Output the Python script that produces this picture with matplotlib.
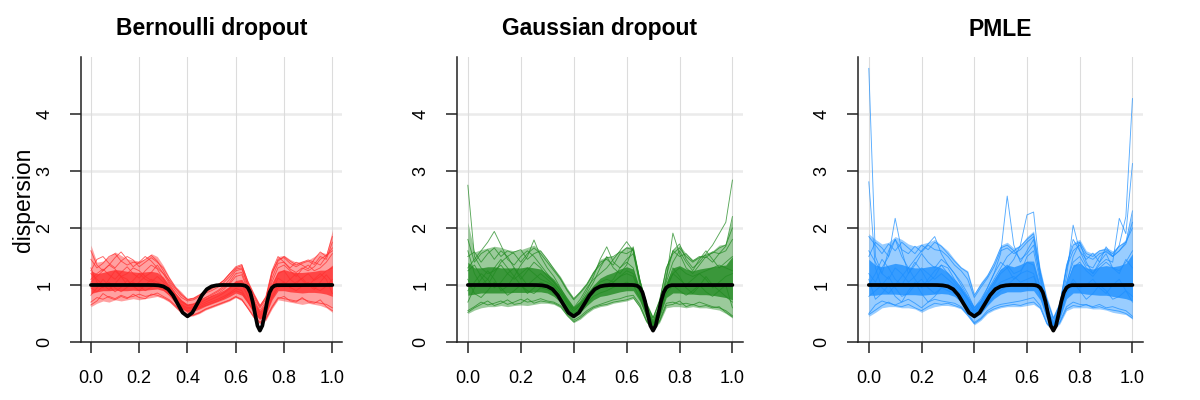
import matplotlib
matplotlib.use("Agg")
import matplotlib.pyplot as plt
import numpy as np

plt.rcParams['font.family'] = ['Liberation Sans', 'DejaVu Sans']

# shared x grid for the coloured curves (step 0.025)
x_grid = np.round(np.arange(41) * 0.025, 3)

# true dispersion (black curve)
true_x = [0.0, 0.24, 0.26, 0.28, 0.30, 0.32, 0.34, 0.36, 0.38, 0.40, 0.42, 0.44, 0.46, 0.48, 0.50, 0.52, 0.54,
          0.62, 0.63, 0.64, 0.65, 0.66, 0.67, 0.68, 0.69, 0.70, 0.71, 0.72, 0.73, 0.74, 0.75, 0.76, 0.77, 1.0]
true_y = [1.0, 1.0, 0.999, 0.994, 0.976, 0.926, 0.82, 0.666, 0.515, 0.45, 0.515, 0.666, 0.82, 0.926, 0.976, 0.994, 1.0,
          1.0, 0.997, 0.986, 0.953, 0.87, 0.71, 0.49, 0.286, 0.20, 0.286, 0.49, 0.71, 0.87, 0.953, 0.986, 0.997, 1.0]

titles = ["Bernoulli dropout", "Gaussian dropout", "PMLE"]
colors = ["#FF3030", "#228B22", "#1E90FF"]

# ---------- Bernoulli dropout ----------
bern_hi = [1.70, 1.40, 1.42, 1.50, 1.58, 1.52, 1.46, 1.44, 1.42, 1.46, 1.55, 1.50, 1.34, 1.14, 0.98, 0.88, 0.76, 0.78, 0.84, 0.90, 0.95,
           1.02, 1.10, 1.22, 1.32, 1.36, 1.08, 0.86, 0.66, 0.82, 1.28, 1.50, 1.52, 1.45, 1.40, 1.42, 1.44, 1.50, 1.58, 1.55, 1.96]
bern_lo = [0.62, 0.68, 0.72, 0.70, 0.74, 0.72, 0.74, 0.76, 0.74, 0.76, 0.78, 0.80, 0.76, 0.70, 0.60, 0.50, 0.44, 0.46, 0.50, 0.56, 0.60,
           0.64, 0.68, 0.72, 0.78, 0.72, 0.58, 0.42, 0.32, 0.38, 0.58, 0.74, 0.72, 0.70, 0.68, 0.66, 0.68, 0.66, 0.64, 0.60, 0.52]
bern_core_hi = [1.25, 1.20, 1.22, 1.25, 1.27, 1.26, 1.24, 1.23, 1.22, 1.23, 1.24, 1.22, 1.14, 1.00, 0.86, 0.74, 0.66, 0.68, 0.73, 0.78, 0.82,
                0.86, 0.91, 0.98, 1.08, 1.10, 0.92, 0.72, 0.54, 0.68, 1.04, 1.24, 1.27, 1.24, 1.22, 1.22, 1.23, 1.24, 1.26, 1.26, 1.35]
bern_core_lo = [0.85, 0.88, 0.90, 0.90, 0.91, 0.90, 0.90, 0.91, 0.90, 0.91, 0.92, 0.93, 0.90, 0.82, 0.70, 0.59, 0.52, 0.54, 0.58, 0.63, 0.67,
                0.71, 0.75, 0.80, 0.86, 0.82, 0.68, 0.52, 0.40, 0.48, 0.74, 0.90, 0.90, 0.88, 0.87, 0.86, 0.87, 0.87, 0.86, 0.84, 0.80]
bern_curves = [
    [1.45, 1.30, 1.38, 1.50, 1.55, 1.42, 1.35, 1.40, 1.38, 1.45, 1.52, 1.42, 1.25, 1.05, 0.90, 0.78, 0.72, 0.74, 0.80, 0.86, 0.90,
     0.96, 1.04, 1.15, 1.28, 1.30, 1.00, 0.78, 0.60, 0.75, 1.20, 1.45, 1.48, 1.38, 1.32, 1.38, 1.42, 1.36, 1.50, 1.45, 1.75],
    [0.70, 0.78, 0.75, 0.80, 0.76, 0.82, 0.78, 0.80, 0.84, 0.80, 0.82, 0.86, 0.80, 0.74, 0.64, 0.54, 0.46, 0.48, 0.52, 0.58, 0.62,
     0.66, 0.70, 0.74, 0.80, 0.75, 0.60, 0.45, 0.35, 0.42, 0.62, 0.78, 0.76, 0.74, 0.72, 0.76, 0.72, 0.70, 0.68, 0.66, 0.60],
    [1.10, 1.20, 1.28, 1.18, 1.10, 1.22, 1.32, 1.20, 1.12, 1.25, 1.35, 1.28, 1.10, 0.95, 0.80, 0.70, 0.64, 0.66, 0.72, 0.78, 0.82,
     0.88, 0.95, 1.05, 1.20, 1.22, 0.95, 0.70, 0.52, 0.66, 1.05, 1.30, 1.35, 1.25, 1.15, 1.28, 1.35, 1.25, 1.30, 1.40, 1.55],
    [0.95, 0.88, 0.98, 1.05, 0.95, 0.88, 0.96, 1.05, 0.98, 0.90, 0.96, 1.02, 0.95, 0.86, 0.74, 0.62, 0.55, 0.57, 0.62, 0.67, 0.71,
     0.75, 0.80, 0.86, 0.94, 0.90, 0.72, 0.54, 0.42, 0.52, 0.80, 1.00, 1.05, 0.96, 0.90, 0.98, 1.05, 0.95, 0.90, 0.98, 1.10],
    [1.30, 1.05, 0.95, 1.10, 1.25, 1.15, 1.00, 1.08, 1.20, 1.10, 1.05, 1.15, 1.05, 0.92, 0.78, 0.66, 0.60, 0.62, 0.68, 0.74, 0.80,
     0.85, 0.92, 1.02, 1.15, 1.18, 0.90, 0.66, 0.48, 0.60, 0.95, 1.20, 1.25, 1.10, 1.02, 1.12, 1.20, 1.08, 1.15, 1.25, 1.30],
    [0.82, 0.95, 1.10, 0.98, 0.88, 0.96, 1.08, 0.98, 0.90, 1.00, 1.10, 1.05, 1.00, 0.90, 0.76, 0.64, 0.58, 0.60, 0.65, 0.70, 0.75,
     0.80, 0.86, 0.94, 1.05, 1.02, 0.80, 0.60, 0.45, 0.56, 0.88, 1.12, 1.05, 0.95, 1.05, 1.12, 1.00, 0.92, 1.05, 1.18, 1.05],
    [1.20, 1.10, 1.00, 0.92, 1.02, 1.15, 1.10, 0.98, 1.05, 1.15, 1.08, 1.00, 0.92, 0.82, 0.70, 0.60, 0.54, 0.56, 0.60, 0.64, 0.68,
     0.72, 0.77, 0.84, 0.90, 0.86, 0.70, 0.52, 0.40, 0.50, 0.76, 0.95, 1.00, 1.10, 1.20, 1.08, 0.98, 1.10, 1.20, 1.10, 0.85],
    [1.05, 1.15, 1.25, 1.35, 1.28, 1.15, 1.20, 1.30, 1.25, 1.15, 1.22, 1.35, 1.20, 1.02, 0.85, 0.72, 0.65, 0.67, 0.72, 0.78, 0.84,
     0.90, 0.98, 1.10, 1.25, 1.28, 1.00, 0.74, 0.55, 0.70, 1.12, 1.38, 1.40, 1.28, 1.22, 1.30, 1.25, 1.32, 1.45, 1.52, 1.60],
    [1.60, 1.35, 1.25, 1.35, 1.48, 1.58, 1.45, 1.32, 1.40, 1.50, 1.42, 1.30, 1.20, 1.08, 0.94, 0.82, 0.74, 0.76, 0.82, 0.88, 0.93,
     1.00, 1.08, 1.20, 1.32, 1.36, 1.05, 0.82, 0.62, 0.80, 1.25, 1.50, 1.40, 1.30, 1.40, 1.35, 1.28, 1.45, 1.58, 1.50, 1.85],
    [0.65, 0.72, 0.85, 0.78, 0.74, 0.80, 0.76, 0.84, 0.78, 0.76, 0.84, 0.82, 0.78, 0.72, 0.62, 0.52, 0.45, 0.47, 0.51, 0.57, 0.61,
     0.65, 0.69, 0.73, 0.79, 0.74, 0.59, 0.43, 0.33, 0.40, 0.60, 0.76, 0.80, 0.72, 0.70, 0.78, 0.70, 0.68, 0.74, 0.62, 0.55],
    [1.25, 1.45, 1.50, 1.38, 1.30, 1.42, 1.50, 1.44, 1.32, 1.40, 1.48, 1.40, 1.30, 1.12, 0.96, 0.84, 0.75, 0.77, 0.83, 0.89, 0.94,
     1.00, 1.08, 1.20, 1.30, 1.34, 1.06, 0.84, 0.64, 0.78, 1.22, 1.42, 1.50, 1.42, 1.35, 1.40, 1.44, 1.40, 1.35, 1.50, 1.65],
]

# ---------- Gaussian dropout ----------
gaus_hi = [2.10, 1.58, 1.62, 1.65, 1.68, 1.66, 1.62, 1.60, 1.62, 1.66, 1.70, 1.60, 1.45, 1.30, 1.15, 0.95, 0.78, 0.90, 1.04, 1.25, 1.45,
           1.50, 1.50, 1.60, 1.68, 1.66, 1.10, 0.70, 0.45, 0.76, 1.32, 1.62, 1.70, 1.55, 1.45, 1.50, 1.56, 1.60, 1.70, 1.72, 2.20]
gaus_lo = [0.50, 0.56, 0.60, 0.62, 0.62, 0.64, 0.62, 0.64, 0.65, 0.64, 0.66, 0.68, 0.68, 0.66, 0.60, 0.45, 0.34, 0.40, 0.50, 0.58, 0.62,
           0.64, 0.68, 0.70, 0.72, 0.76, 0.60, 0.34, 0.20, 0.34, 0.60, 0.62, 0.62, 0.60, 0.62, 0.60, 0.60, 0.58, 0.56, 0.50, 0.42]
gaus_core_hi = [1.40, 1.30, 1.30, 1.32, 1.32, 1.30, 1.30, 1.30, 1.30, 1.32, 1.30, 1.28, 1.20, 1.10, 0.95, 0.78, 0.62, 0.72, 0.86, 1.00, 1.12,
                1.18, 1.22, 1.28, 1.32, 1.28, 0.95, 0.58, 0.36, 0.60, 1.05, 1.30, 1.34, 1.28, 1.25, 1.28, 1.30, 1.32, 1.34, 1.35, 1.50]
gaus_core_lo = [0.82, 0.84, 0.86, 0.86, 0.86, 0.86, 0.86, 0.87, 0.87, 0.87, 0.88, 0.88, 0.86, 0.80, 0.70, 0.56, 0.44, 0.52, 0.64, 0.74, 0.80,
                0.82, 0.85, 0.88, 0.90, 0.90, 0.72, 0.44, 0.26, 0.44, 0.78, 0.86, 0.86, 0.84, 0.84, 0.83, 0.83, 0.82, 0.80, 0.78, 0.74]
gaus_curves = [
    [2.75, 1.50, 1.30, 1.20, 1.25, 1.35, 1.20, 1.10, 1.20, 1.30, 1.20, 1.10, 1.05, 0.98, 0.85, 0.70, 0.55, 0.65, 0.80, 0.95, 1.05,
     1.10, 1.05, 1.15, 1.25, 1.20, 0.90, 0.55, 0.32, 0.55, 0.95, 1.20, 1.30, 1.20, 1.15, 1.20, 1.25, 1.30, 1.35, 1.30, 1.25],
    [1.30, 1.45, 1.60, 1.75, 1.94, 1.70, 1.45, 1.35, 1.50, 1.60, 1.50, 1.35, 1.20, 1.05, 0.90, 0.72, 0.58, 0.70, 0.90, 1.15, 1.45,
     1.67, 1.40, 1.30, 1.45, 1.55, 1.05, 0.62, 0.38, 0.62, 1.15, 1.60, 1.72, 1.45, 1.30, 1.40, 1.55, 1.70, 1.90, 2.10, 2.84],
    [0.55, 0.62, 0.70, 0.65, 0.68, 0.72, 0.66, 0.70, 0.75, 0.70, 0.72, 0.76, 0.72, 0.70, 0.64, 0.50, 0.38, 0.45, 0.55, 0.62, 0.66,
     0.70, 0.74, 0.76, 0.80, 0.82, 0.66, 0.38, 0.22, 0.38, 0.68, 0.70, 0.66, 0.68, 0.65, 0.70, 0.66, 0.62, 0.60, 0.55, 0.46],
    [1.60, 1.20, 1.00, 1.10, 1.30, 1.45, 1.30, 1.15, 1.35, 1.50, 1.79, 1.50, 1.30, 1.15, 0.95, 0.75, 0.60, 0.75, 0.95, 1.10, 1.20,
     1.30, 1.45, 1.60, 1.76, 1.60, 1.00, 0.58, 0.34, 0.58, 1.10, 1.91, 1.55, 1.30, 1.20, 1.35, 1.50, 1.40, 1.55, 1.60, 1.80],
    [0.90, 1.05, 1.20, 1.10, 0.95, 1.05, 1.20, 1.30, 1.15, 1.00, 1.10, 1.20, 1.10, 1.00, 0.85, 0.66, 0.50, 0.60, 0.76, 0.90, 1.00,
     0.95, 1.05, 1.15, 1.20, 1.15, 0.85, 0.50, 0.30, 0.50, 0.92, 1.20, 1.10, 1.00, 1.10, 1.20, 1.10, 0.95, 1.05, 1.15, 1.20],
    [1.10, 0.85, 0.78, 0.90, 1.05, 0.95, 0.82, 0.90, 1.00, 0.90, 0.85, 0.95, 0.92, 0.86, 0.76, 0.60, 0.46, 0.55, 0.68, 0.80, 0.86,
     0.90, 0.96, 1.00, 1.05, 1.00, 0.78, 0.46, 0.27, 0.46, 0.85, 1.00, 0.90, 0.82, 0.90, 1.00, 0.88, 0.80, 0.90, 0.80, 0.70],
    [1.25, 1.35, 1.15, 1.00, 1.20, 1.40, 1.50, 1.30, 1.10, 1.25, 1.40, 1.30, 1.15, 1.05, 0.90, 0.70, 0.54, 0.66, 0.85, 1.05, 1.30,
     1.50, 1.30, 1.20, 1.35, 1.67, 1.10, 0.60, 0.36, 0.60, 1.05, 1.40, 1.60, 1.40, 1.25, 1.45, 1.60, 1.45, 1.30, 1.40, 1.50],
    [0.70, 0.95, 1.10, 1.25, 1.10, 0.90, 0.98, 1.15, 1.00, 0.85, 0.95, 1.05, 1.00, 0.92, 0.78, 0.60, 0.45, 0.55, 0.72, 0.88, 0.95,
     1.00, 1.10, 1.30, 1.40, 1.30, 0.88, 0.52, 0.30, 0.52, 0.95, 1.30, 1.15, 0.95, 0.85, 0.98, 1.15, 1.00, 0.90, 1.00, 0.60],
    [1.50, 1.58, 1.40, 1.55, 1.65, 1.50, 1.60, 1.55, 1.40, 1.55, 1.65, 1.55, 1.40, 1.25, 1.10, 0.90, 0.74, 0.86, 1.00, 1.20, 1.40,
     1.45, 1.35, 1.55, 1.65, 1.62, 1.08, 0.68, 0.42, 0.72, 1.30, 1.55, 1.65, 1.50, 1.40, 1.48, 1.52, 1.56, 1.65, 1.70, 2.00],
    [0.52, 0.60, 0.66, 0.72, 0.64, 0.68, 0.74, 0.66, 0.68, 0.76, 0.68, 0.72, 0.70, 0.68, 0.62, 0.47, 0.35, 0.42, 0.52, 0.60, 0.64,
     0.66, 0.70, 0.72, 0.74, 0.78, 0.62, 0.36, 0.21, 0.36, 0.64, 0.66, 0.72, 0.62, 0.66, 0.62, 0.64, 0.60, 0.62, 0.52, 0.44],
    [1.80, 1.40, 1.55, 1.62, 1.45, 1.60, 1.50, 1.58, 1.62, 1.45, 1.55, 1.60, 1.45, 1.28, 1.12, 0.92, 0.76, 0.88, 1.02, 1.22, 1.35,
     1.48, 1.50, 1.58, 1.55, 1.62, 1.08, 0.66, 0.42, 0.74, 1.28, 1.60, 1.50, 1.55, 1.42, 1.50, 1.48, 1.58, 1.55, 1.68, 2.20],
]

# ---------- PMLE ----------
pmle_hi = [1.90, 1.80, 1.72, 1.75, 1.85, 1.80, 1.72, 1.68, 1.72, 1.75, 1.80, 1.70, 1.60, 1.45, 1.32, 1.25, 0.85, 1.05, 1.20, 1.40, 1.70,
           1.75, 1.65, 1.70, 1.85, 1.95, 1.30, 0.80, 0.45, 0.70, 1.40, 1.75, 1.80, 1.60, 1.55, 1.62, 1.66, 1.60, 1.70, 1.80, 2.30]
pmle_lo = [0.45, 0.52, 0.60, 0.62, 0.62, 0.60, 0.60, 0.58, 0.52, 0.58, 0.62, 0.64, 0.64, 0.62, 0.58, 0.45, 0.30, 0.38, 0.50, 0.56, 0.60,
           0.62, 0.62, 0.62, 0.64, 0.66, 0.58, 0.30, 0.20, 0.32, 0.55, 0.60, 0.60, 0.60, 0.58, 0.58, 0.56, 0.52, 0.50, 0.48, 0.40]
pmle_core_hi = [1.45, 1.35, 1.32, 1.35, 1.38, 1.36, 1.32, 1.30, 1.30, 1.32, 1.34, 1.30, 1.22, 1.10, 0.96, 0.80, 0.62, 0.74, 0.92, 1.10, 1.28,
                1.35, 1.32, 1.36, 1.42, 1.42, 1.00, 0.60, 0.34, 0.56, 1.04, 1.36, 1.38, 1.30, 1.28, 1.32, 1.34, 1.32, 1.34, 1.38, 1.55]
pmle_core_lo = [0.82, 0.82, 0.84, 0.84, 0.84, 0.83, 0.83, 0.83, 0.82, 0.83, 0.84, 0.85, 0.84, 0.80, 0.70, 0.56, 0.42, 0.50, 0.64, 0.76, 0.84,
                0.88, 0.88, 0.88, 0.90, 0.90, 0.74, 0.42, 0.25, 0.42, 0.76, 0.86, 0.86, 0.84, 0.83, 0.82, 0.82, 0.80, 0.78, 0.76, 0.72]
pmle_curves = [
    [4.80, 1.50, 1.20, 1.10, 1.30, 1.20, 1.05, 1.15, 1.30, 1.20, 1.10, 1.20, 1.10, 1.00, 0.90, 0.75, 0.55, 0.65, 0.85, 1.05, 1.25,
     1.35, 1.20, 1.25, 1.40, 1.35, 0.95, 0.55, 0.30, 0.55, 1.00, 1.30, 1.40, 1.25, 1.15, 1.30, 1.40, 1.30, 1.25, 1.40, 1.60],
    [1.20, 1.05, 1.30, 1.50, 2.17, 1.60, 1.20, 1.35, 1.55, 1.40, 1.30, 1.45, 1.35, 1.20, 1.05, 0.85, 0.60, 0.75, 0.95, 1.20, 1.55,
     2.56, 1.70, 1.40, 1.60, 1.80, 1.10, 0.60, 0.34, 0.60, 1.15, 2.05, 1.60, 1.35, 1.30, 1.50, 1.60, 1.50, 1.70, 2.20, 4.27],
    [2.81, 1.30, 0.95, 0.85, 1.00, 1.15, 1.30, 1.10, 0.95, 1.10, 1.25, 1.35, 1.20, 1.05, 0.92, 0.72, 0.52, 0.62, 0.80, 1.00, 1.20,
     1.30, 1.45, 1.70, 2.23, 2.28, 1.20, 0.58, 0.32, 0.58, 1.05, 1.40, 1.50, 1.30, 1.20, 1.35, 1.45, 1.40, 2.17, 1.90, 3.13],
    [0.50, 0.65, 0.72, 0.68, 0.65, 0.70, 0.75, 0.68, 0.60, 0.70, 0.75, 0.72, 0.70, 0.68, 0.62, 0.50, 0.34, 0.42, 0.55, 0.62, 0.66,
     0.68, 0.70, 0.72, 0.75, 0.78, 0.64, 0.34, 0.21, 0.36, 0.62, 0.70, 0.66, 0.65, 0.62, 0.66, 0.60, 0.62, 0.58, 0.55, 0.45],
    [1.00, 1.20, 1.45, 1.30, 1.10, 1.00, 1.20, 1.40, 1.25, 1.05, 1.15, 1.35, 1.30, 1.10, 0.95, 0.75, 0.55, 0.70, 0.95, 1.20, 1.40,
     1.30, 1.10, 1.20, 1.50, 1.60, 1.05, 0.55, 0.30, 0.52, 1.00, 1.50, 1.75, 1.40, 1.20, 1.40, 1.55, 1.30, 1.20, 1.45, 1.30],
    [0.80, 0.90, 1.00, 1.15, 0.95, 0.80, 0.85, 1.00, 1.10, 0.95, 0.85, 0.95, 1.00, 0.95, 0.85, 0.66, 0.48, 0.60, 0.78, 0.95, 1.05,
     1.10, 1.15, 1.05, 1.10, 1.15, 0.85, 0.48, 0.27, 0.48, 0.90, 1.10, 0.95, 1.00, 1.10, 0.95, 0.85, 1.00, 1.10, 0.90, 0.70],
    [1.60, 1.40, 1.20, 1.60, 1.80, 1.50, 1.30, 1.45, 1.60, 1.72, 1.85, 1.55, 1.35, 1.20, 1.00, 0.80, 0.60, 0.72, 0.90, 1.10, 1.30,
     1.50, 1.60, 1.45, 1.55, 1.70, 1.15, 0.62, 0.36, 0.65, 1.30, 1.80, 1.60, 1.45, 1.56, 1.40, 1.67, 1.50, 1.60, 1.75, 2.00],
    [1.10, 0.75, 0.85, 1.00, 0.80, 0.70, 0.90, 1.05, 0.85, 0.70, 0.80, 0.95, 0.90, 0.85, 0.80, 0.62, 0.42, 0.50, 0.66, 0.80, 0.90,
     1.00, 1.10, 1.20, 1.25, 1.20, 0.82, 0.44, 0.24, 0.44, 0.85, 1.05, 0.90, 0.75, 0.85, 1.00, 0.90, 0.75, 0.80, 0.90, 0.80],
    [1.85, 1.70, 1.55, 1.72, 1.60, 1.75, 1.65, 1.55, 1.70, 1.62, 1.75, 1.68, 1.55, 1.42, 1.30, 1.22, 0.82, 1.00, 1.15, 1.38, 1.65,
     1.70, 1.60, 1.68, 1.80, 1.90, 1.25, 0.76, 0.42, 0.68, 1.35, 1.70, 1.75, 1.55, 1.50, 1.60, 1.62, 1.55, 1.68, 1.75, 2.30],
    [0.48, 0.56, 0.64, 0.70, 0.64, 0.62, 0.66, 0.60, 0.55, 0.62, 0.68, 0.66, 0.68, 0.64, 0.60, 0.47, 0.32, 0.40, 0.52, 0.58, 0.62,
     0.64, 0.66, 0.64, 0.68, 0.70, 0.60, 0.32, 0.21, 0.34, 0.58, 0.64, 0.62, 0.66, 0.60, 0.62, 0.58, 0.56, 0.54, 0.50, 0.42],
    [1.50, 1.75, 1.65, 1.50, 1.80, 1.62, 1.55, 1.68, 1.58, 1.70, 1.62, 1.60, 1.50, 1.35, 1.25, 1.10, 0.78, 0.96, 1.12, 1.32, 1.60,
     1.65, 1.55, 1.62, 1.75, 1.85, 1.22, 0.74, 0.40, 0.66, 1.30, 1.60, 1.70, 1.50, 1.45, 1.55, 1.58, 1.50, 1.60, 1.72, 2.10],
]

panels = [
    (bern_lo, bern_hi, bern_core_lo, bern_core_hi, bern_curves),
    (gaus_lo, gaus_hi, gaus_core_lo, gaus_core_hi, gaus_curves),
    (pmle_lo, pmle_hi, pmle_core_lo, pmle_core_hi, pmle_curves),
]

fig = plt.figure(figsize=(12, 4), dpi=100)
lefts = [81, 457, 858]
rights = [342, 743, 1143]
top_px, bot_px = 57, 342

for k in range(3):
    l, r = lefts[k] / 1200, rights[k] / 1200
    b = 1 - bot_px / 400
    h = (bot_px - top_px) / 400
    ax = fig.add_axes([l, b, r - l, h])
    lo, hi, clo, chi, curves = panels[k]
    col = colors[k]

    ax.set_xlim(-0.041, 1.04)
    ax.set_ylim(0, 5)
    for yv in [1, 2, 3, 4]:
        ax.axhline(yv, color="#EBEBEB", lw=1.8, zorder=0)
    for xv in [0, 0.2, 0.4, 0.6, 0.8, 1.0]:
        ax.axvline(xv, color="#DCDCDC", lw=0.8, zorder=0)

    ax.fill_between(x_grid, lo, hi, color=col, alpha=0.45, lw=0, zorder=1)
    ax.fill_between(x_grid, clo, chi, color=col, alpha=0.8, lw=0, zorder=1)
    for c in curves:
        ax.plot(x_grid, c, color=col, lw=0.65, alpha=0.75, zorder=2)
    ax.plot(true_x, true_y, color="black", lw=2.7, zorder=3, solid_capstyle="round")

    for s in ["top", "right"]:
        ax.spines[s].set_visible(False)
    for s in ["left", "bottom"]:
        ax.spines[s].set_color("#222222")
        ax.spines[s].set_linewidth(1.1)
    ax.set_xticks([0, 0.2, 0.4, 0.6, 0.8, 1.0])
    ax.set_xticklabels(["0.0", "0.2", "0.4", "0.6", "0.8", "1.0"])
    ax.set_yticks([0, 1, 2, 3, 4])
    ax.set_yticklabels(["0", "1", "2", "3", "4"], rotation=90, va="center")
    ax.tick_params(axis="both", direction="out", length=8, width=1.1, color="#222222",
                   labelsize=13, pad=12)
    fig.text((lefts[k] + rights[k]) / 2 / 1200, 1 - 29 / 400, titles[k],
             ha="center", va="center", fontsize=16.5, fontweight="bold")

fig.text(24 / 1200, 1 - 200 / 400, "dispersion", rotation=90, ha="center", va="center", fontsize=16.5)

fig.savefig("out.png", dpi=100)
